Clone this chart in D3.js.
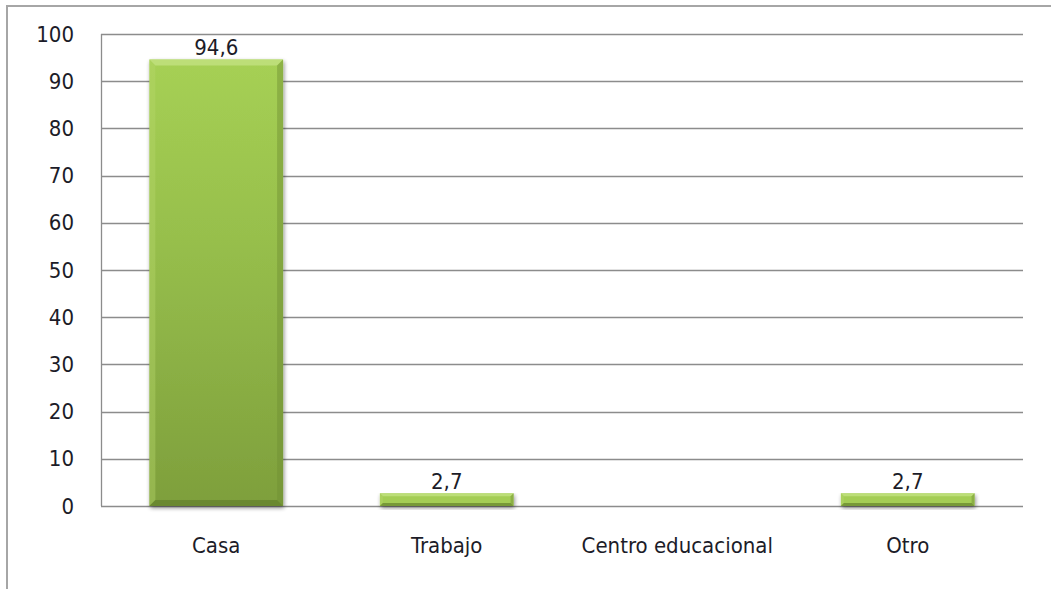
<!DOCTYPE html>
<html><head><meta charset="utf-8">
<script src="https://cdn.jsdelivr.net/npm/d3@7"></script>
<style>
html,body{margin:0;padding:0;background:#fff;}
svg{display:block;}
text{font-family:"DejaVu Sans Condensed","DejaVu Sans",sans-serif;font-stretch:condensed;fill:#1c1c28;}
</style></head>
<body>
<svg id="chart" width="1051" height="589"></svg>
<script>
const categories = ["Casa", "Trabajo", "Centro educacional", "Otro"];
const values = [94.6, 2.7, 0, 2.7];
const valueLabels = ["94,6", "2,7", "", "2,7"];
const yTicks = [0, 10, 20, 30, 40, 50, 60, 70, 80, 90, 100];

const svg = d3.select("#chart");
const W = 1051, H = 589;
const m = {left: 101, right: 1023, top: 34, bottom: 506};

// outer frame
svg.append("rect").attr("x", 7).attr("y", 6).attr("width", W + 10).attr("height", H + 10)
  .attr("fill", "none").attr("stroke", "#a6a6a6").attr("stroke-width", 2);

const x = d3.scaleBand().domain(categories).range([m.left, m.right]).paddingInner(0.42).paddingOuter(0.21);
const y = d3.scaleLinear().domain([0, 100]).range([m.bottom, m.top]);

// gridlines
svg.append("g").selectAll("line").data(yTicks).join("line")
  .attr("x1", m.left).attr("x2", m.right)
  .attr("y1", d => Math.round(y(d)) + 0.5).attr("y2", d => Math.round(y(d)) + 0.5)
  .attr("stroke", "#8c8c8c").attr("stroke-width", 1.3);
// left axis line
svg.append("line").attr("x1", m.left + 0.5).attr("x2", m.left + 0.5).attr("y1", m.top).attr("y2", m.bottom)
  .attr("stroke", "#8c8c8c").attr("stroke-width", 1.3);

// y axis labels
const yAxis = d3.axisLeft(y).tickValues(yTicks).tickSize(0).tickPadding(27);
const gy = svg.append("g").attr("transform", `translate(${m.left},0)`).call(yAxis);
gy.select(".domain").remove();
gy.selectAll("text").attr("font-size", 22).attr("font-family", null).attr("fill", "#1c1c28");

// x axis labels
const xAxis = d3.axisBottom(x).tickSize(0).tickPadding(31);
const gx = svg.append("g").attr("transform", `translate(0,${m.bottom})`).call(xAxis);
gx.select(".domain").remove();
gx.selectAll("text").attr("font-size", 22).attr("font-family", null).attr("fill", "#1c1c28");

// defs
const defs = svg.append("defs");
const grad = defs.append("linearGradient").attr("id", "face").attr("x1", 0).attr("y1", 0).attr("x2", 0).attr("y2", 1);
grad.append("stop").attr("offset", 0).attr("stop-color", "#a6d054");
grad.append("stop").attr("offset", 0.4).attr("stop-color", "#97bf4c");
grad.append("stop").attr("offset", 1).attr("stop-color", "#7e9f3c");
const f = defs.append("filter").attr("id", "shadow").attr("x", "-10%").attr("y", "-10%").attr("width", "130%").attr("height", "140%");
f.append("feGaussianBlur").attr("in", "SourceAlpha").attr("stdDeviation", 2);
f.append("feOffset").attr("dx", 1).attr("dy", 2).attr("result", "b");
f.append("feComponentTransfer").append("feFuncA").attr("type", "linear").attr("slope", 0.45);
const fm = f.append("feMerge");
fm.append("feMergeNode");
fm.append("feMergeNode").attr("in", "SourceGraphic");

const data = categories.map((c, i) => ({c, v: values[i], lab: valueLabels[i]})).filter(d => d.v > 0);
const bars = svg.append("g").selectAll("g").data(data).join("g");
bars.each(function(d) {
  const g = d3.select(this);
  const x0 = x(d.c), w = x.bandwidth(), y0 = y(d.v), h = y(0) - y(d.v);
  const small = h < 30;
  const b = small ? 3 : 6;
  g.append("rect").attr("x", x0).attr("y", y0).attr("width", w).attr("height", h)
    .attr("fill", small ? "#a4cd55" : "url(#face)").attr("filter", "url(#shadow)");
  const pts = (a) => a.map(p => p.join(",")).join(" ");
  g.append("polygon").attr("points", pts([[x0, y0], [x0 + w, y0], [x0 + w - b, y0 + b], [x0 + b, y0 + b]]))
    .attr("fill", "#c4e384").attr("opacity", 0.75);
  g.append("polygon").attr("points", pts([[x0, y0], [x0 + b, y0 + b], [x0 + b, y0 + h - b], [x0, y0 + h]]))
    .attr("fill", "#b6d86c").attr("opacity", 0.4);
  g.append("polygon").attr("points", pts([[x0 + w, y0], [x0 + w, y0 + h], [x0 + w - b, y0 + h - b], [x0 + w - b, y0 + b]]))
    .attr("fill", "#6e8d32").attr("opacity", 0.45);
  g.append("polygon").attr("points", pts([[x0, y0 + h], [x0 + w, y0 + h], [x0 + w - b, y0 + h - b], [x0 + b, y0 + h - b]]))
    .attr("fill", "#5f7d2a").attr("opacity", 0.65);
  g.append("text").attr("x", x0 + w / 2).attr("y", y0 - 4).attr("text-anchor", "middle")
    .attr("font-size", 22).text(d.lab);
});
</script>
</body></html>
